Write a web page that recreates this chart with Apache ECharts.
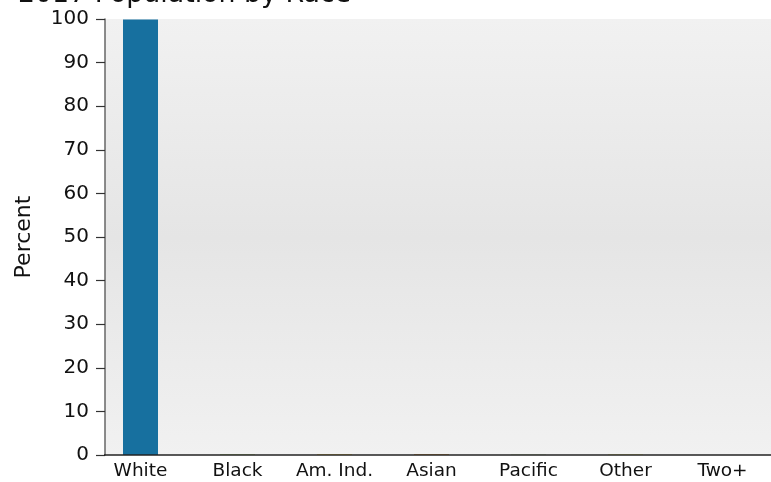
<!DOCTYPE html>
<html>
<head>
<meta charset="utf-8">
<script src="https://cdn.jsdelivr.net/npm/echarts@6/dist/echarts.min.js"></script>
<style>html,body{margin:0;padding:0;background:#fff}#c{width:771px;height:482px}</style>
</head>
<body>
<div id="c"></div>
<script>
var categories = ['White', 'Black', 'Am. Ind.', 'Asian', 'Pacific', 'Other', 'Two+'];
var values = [99.9, 0.1, 0.15, 0.15, 0.05, 0.1, 0];
var barColors = ['#17709f', '#8cbf3f', '#f2c744', '#d98a2b', '#7fbf3f', '#e4dc4a', '#9b59b6'];
var yTicks = [0, 10, 20, 30, 40, 50, 60, 70, 80, 90, 100];

var FONT = 'DejaVu Sans, Verdana, sans-serif';
var chart = echarts.init(document.getElementById('c'), null, {renderer: 'canvas'});
chart.setOption({
  animation: false,
  backgroundColor: '#ffffff',
  grid: {left: 92, right: -24, top: 19, bottom: 27, containLabel: false},
  graphic: [
    {type: 'rect', z: -10, silent: true,
     shape: {x: 105, y: 19, width: 666, height: 436},
     style: {fill: {type: 'linear', x: 0, y: 0, x2: 0, y2: 1,
       colorStops: [{offset: 0, color: '#f1f1f1'}, {offset: 0.5, color: '#e5e5e5'}, {offset: 1, color: '#f1f1f1'}]}}},
    {type: 'line', z: 50, silent: true,
     shape: {x1: 104, y1: 455, x2: 771, y2: 455},
     style: {stroke: '#222', lineWidth: 1.5}},
    {type: 'text', z: 50, left: 18, top: -18,
     style: {text: '2017 Population by Race', font: '26.8px ' + FONT, fill: '#111'}}
  ],
  xAxis: {
    type: 'category',
    data: categories,
    boundaryGap: true,
    axisLine: {show: false},
    axisTick: {show: false},
    axisLabel: {color: '#111', fontFamily: FONT, fontSize: 18.5, margin: 7, interval: 0}
  },
  yAxis: {
    type: 'value',
    min: 0, max: 100, interval: 10,
    offset: -13,
    name: 'Percent',
    nameLocation: 'middle',
    nameGap: 70,
    nameRotate: 90,
    nameTextStyle: {color: '#111', fontFamily: FONT, fontSize: 22},
    splitLine: {show: false},
    axisLine: {show: true, lineStyle: {color: '#666', width: 1.5}},
    axisTick: {show: true, length: 9, lineStyle: {color: '#333', width: 1.2}},
    axisLabel: {color: '#111', fontFamily: FONT, fontSize: 20, margin: 16,
      formatter: function (v) { return yTicks.indexOf(v) >= 0 ? String(v) : ''; }}
  },
  series: [{
    type: 'bar',
    barWidth: 35,
    data: values.map(function (v, i) { return {value: v, itemStyle: {color: barColors[i]}}; })
  }]
});
</script>
</body>
</html>
